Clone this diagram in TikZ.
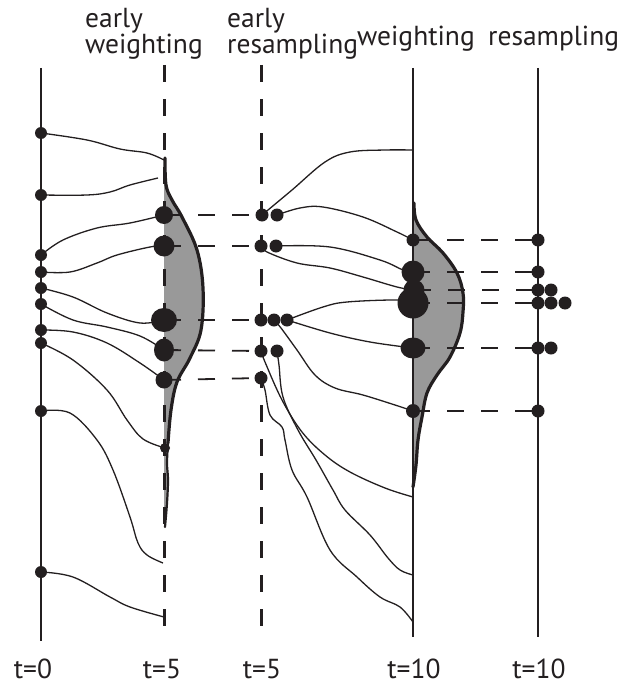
\documentclass[tikz,border=0pt]{standalone}
\usepackage{fontspec}
\setmainfont{PT Sans}
\usetikzlibrary{shapes.geometric}
\pgfdeclarelayer{back}
\pgfdeclarelayer{mid}
\pgfsetlayers{back,mid,main}
\definecolor{inkc}{HTML}{231F20}
\definecolor{wgray}{HTML}{999999}
\begin{document}
\begin{tikzpicture}[x=1pt,y=-1pt,
  vline/.style={line width=2.8pt, draw=inkc},
  dline/.style={line width=3pt, draw=inkc, dash pattern=on 17pt off 17pt},
  hdash/.style={line width=1.8pt, draw=inkc, dash pattern=on 17pt off 17pt},
  traj/.style={line width=1.3pt, draw=inkc},
  dot/.style={circle, fill=inkc, inner sep=0pt, minimum size=#1},
  edot/.style 2 args={ellipse, fill=inkc, inner sep=0pt, minimum width=#1, minimum height=#2},
  lbl/.style={font=\fontsize{27.5}{30}\selectfont, inner sep=0pt, text=inkc},
  wedge/.style={line width=3.2pt, draw=inkc, line join=round, line cap=round},
  wfill/.style={fill=wgray, draw=none},
]
\useasboundingbox (0,0) rectangle (628,685);

% labels
\node[lbl, anchor=base west] (l1a) at (85,28) {early};
\node[lbl, anchor=base west] (l1b) at (85,54) {weighting};
\node[lbl, anchor=base west] (l2a) at (227,28) {early};
\node[lbl, anchor=base west] (l2b) at (227,54) {resampling};
\node[lbl, anchor=base west] (l3) at (357,46) {weighting};
\node[lbl, anchor=base west] (l4) at (488,46) {resampling};
\node[lbl, anchor=base, text depth=0pt] (b0) at (33,678) {t=0};
\node[lbl, anchor=base, text depth=0pt] (b1) at (162,678) {t=5};
\node[lbl, anchor=base, text depth=0pt] (b2) at (262,678) {t=5};
\node[lbl, anchor=base, text depth=0pt] (b3) at (414,678) {t=10};
\node[lbl, anchor=base, text depth=0pt] (b4) at (539,678) {t=10};

% t=0 particles
\foreach \n/\y in {1/133,2/195,3/255,4/272,5/288,6/304,7/330,8/343,9/411,10/572}
  \node[dot=12pt] (a\n) at (41,\y) {};

% early weighting particles
\node[dot=18pt] (w1) at (164,215) {};
\node[dot=21pt] (w2) at (164,246) {};
\node[edot={26pt}{24pt}] (w3) at (164,320) {};
\node[edot={20pt}{23pt}] (w4) at (164,350) {};
\node[dot=17pt] (w5) at (164,380) {};
\node[dot=10pt] (w6) at (165,448) {};
\coordinate (e1) at (164,160);
\coordinate (e2) at (158,178);
\coordinate (e3) at (163,563);
\coordinate (e4) at (164,617);

% early resampling particles
\node[dot=13pt] (r1) at (262,215) {};
\node[dot=13pt] (r2) at (277,215) {};
\node[dot=13pt] (r3) at (261,246) {};
\node[dot=13pt] (r4) at (276,246) {};
\node[dot=13pt] (r5) at (261,320) {};
\node[dot=13pt] (r6) at (274,320) {};
\node[dot=13pt] (r7) at (287,320) {};
\node[dot=13pt] (r8) at (261,351) {};
\node[dot=13pt] (r9) at (277,351) {};
\node[dot=13pt] (r10) at (261,378) {};

% weighting particles
\node[dot=13pt] (v1) at (413,240) {};
\node[dot=23pt] (v2) at (413,272) {};
\node[dot=21pt] (v3) at (414,290) {};
\node[dot=31pt] (v4) at (413,303) {};
\node[edot={25pt}{21pt}] (v5) at (413,348) {};
\node[dot=14pt] (v6) at (413,411) {};
\coordinate (f1) at (413,150);
\coordinate (f2) at (413,497);
\coordinate (f3) at (413,575);
\coordinate (f4) at (413,622);

% resampling particles
\node[dot=13pt] (s1) at (538,240) {};
\node[dot=13pt] (s2) at (538,272) {};
\node[dot=13pt] (s3) at (538,290) {};
\node[dot=13pt] (s3b) at (551,290) {};
\node[dot=13pt] (s4) at (538,303) {};
\node[dot=13pt] (s4b) at (551,303) {};
\node[dot=13pt] (s4c) at (565,303) {};
\node[dot=13pt] (s5) at (538,348) {};
\node[dot=13pt] (s5b) at (551,348) {};
\node[dot=13pt] (s6) at (538,411) {};

% axis end points
\coordinate (L0t) at (41,68);  \coordinate (L0b) at (41,641);
\coordinate (D1t) at (164,65); \coordinate (D1b) at (164,626);
\coordinate (D2t) at (261,65); \coordinate (D2b) at (261,626);
\coordinate (L3t) at (413,68); \coordinate (L3b) at (413,637);
\coordinate (L4t) at (538,68); \coordinate (L4b) at (538,637);

\begin{pgfonlayer}{back}
  \fill[wfill] (164,158) -- plot[smooth, tension=0.6] coordinates {(165,158) (166,185) (172,200) (182,217) (197,250) (203,288) (201,330) (190,358) (177,382) (171,410) (168,443) (167,463) (168,480) (167,503) (165,527)} -- (164,527) -- cycle;
  \fill[wfill] (413,203) -- plot[smooth, tension=0.6] coordinates {(414,203) (416,220) (427,237) (443,253) (457,273) (463,293) (463,312) (460,333) (450,357) (437,375) (427,393) (422,417) (418,440) (416,465) (413,487)} -- cycle;
\end{pgfonlayer}

\begin{pgfonlayer}{mid}
  \draw[wedge] plot[smooth, tension=0.6] coordinates {(165,158) (166,185) (172,200) (182,217) (197,250) (203,288) (201,330) (190,358) (177,382) (171,410) (168,443)};
  \draw[wedge, line width=2.2pt] plot[smooth, tension=0.6] coordinates {(168,443) (167,463) (168,480) (167,503) (165,527)};
  \draw[wedge] plot[smooth, tension=0.6] coordinates {(414,203) (416,220) (427,237) (443,253) (457,273) (463,293) (463,312) (460,333) (450,357) (437,375) (427,393) (422,417) (418,440) (416,465) (413,487)};

  \draw[vline] (L0t) -- (L0b);
  \draw[dline] (D1t) -- (D1b);
  \draw[dline] (D2t) -- (D2b);
  \draw[vline] (L3t) -- (L3b);
  \draw[vline] (L4t) -- (L4b);

  % horizontal dashes
  \draw[hdash] (w1.center) -- (r1.center);
  \draw[hdash] (w2.center) -- (r3.center);
  \draw[hdash] (w3.center) -- (r5.center);
  \draw[hdash] (w4.center) -- (r8.center);
  \draw[hdash] (w5.center) -- (r10.center);
  \draw[hdash] (v1.center) -- (s1.center);
  \draw[hdash] (v2.center) -- (s2.center);
  \draw[hdash] (v3.center) -- (s3.center);
  \draw[hdash] (v4.center) -- (s4.center);
  \draw[hdash] (v5.center) -- (s5.center);
  \draw[hdash] (v6.center) -- (s6.center);

  % trajectories t=0 -> t=5
  \draw[traj] plot[smooth, tension=0.6] coordinates {(a1.center) (87,140) (120,149) (147,153) (e1)};
  \draw[traj] plot[smooth, tension=0.6] coordinates {(a2.center) (87,195) (110,192) (130,185) (e2)};
  \draw[traj] plot[smooth, tension=0.6] coordinates {(a3.center) (63,240) (97,228) (130,223) (w1.center)};
  \draw[traj] plot[smooth, tension=0.6] coordinates {(a4.center) (70,272) (97,263) (117,255) (150,247) (w2.center)};
  \draw[traj] plot[smooth, tension=0.6] coordinates {(a5.center) (73,297) (107,313) (140,323) (w3.center)};
  \draw[traj] plot[smooth, tension=0.6] coordinates {(a6.center) (73,320) (107,327) (140,336) (w4.center)};
  \draw[traj] plot[smooth, tension=0.6] coordinates {(a7.center) (73,332) (107,343) (140,363) (w5.center)};
  \draw[traj] plot[smooth, tension=0.6] coordinates {(a8.center) (73,360) (107,390) (127,420) (143,439) (w6.center)};
  \draw[traj] plot[smooth, tension=0.6] coordinates {(a9.center) (70,413) (97,440) (113,470) (130,517) (138,543) (147,555) (e3)};
  \draw[traj] plot[smooth, tension=0.6] coordinates {(a10.center) (73,577) (110,597) (130,607) (e4)};

  % trajectories t=5 -> t=10
  \draw[traj] plot[smooth, tension=0.6] coordinates {(r1.center) (292,190) (325,162) (350,152) (385,150) (f1)};
  \draw[traj] plot[smooth, tension=0.6] coordinates {(r2.center) (300,208) (323,207) (363,217) (397,232) (v1.center)};
  \draw[traj] plot[smooth, tension=0.6] coordinates {(r4.center) (330,247) (380,260) (403,270) (v2.center)};
  \draw[traj] plot[smooth, tension=0.6] coordinates {(r3.center) (267,252) (297,263) (330,268) (363,277) (397,287) (v3.center)};
  \draw[traj] plot[smooth, tension=0.6] coordinates {(r7.center) (323,307) (347,302) (397,300) (v4.center)};
  \draw[traj] plot[smooth, tension=0.6] coordinates {(r7.center) (330,333) (370,342) (v5.center)};
  \draw[traj] plot[smooth, tension=0.6] coordinates {(r6.center) (281,328) (297,350) (315,375) (335,388) (363,395) (395,405) (v6.center)};
  \draw[traj] plot[smooth, tension=0.6] coordinates {(r8.center) (265,362) (282,400) (302,432) (325,455) (350,472) (385,488) (f2)};
  \draw[traj] plot[smooth, tension=0.6] coordinates {(r9.center) (279,365) (283,397) (298,430) (316,460) (333,490) (345,510) (370,535) (388,558) (400,570) (f3)};
  \draw[traj] plot[smooth, tension=0.6] coordinates {(r10.center) (265,390) (270,415) (282,427) (285,440) (292,470) (307,497) (330,550) (357,577) (380,597) (400,607) (f4)};
\end{pgfonlayer}
\end{tikzpicture}
\end{document}
